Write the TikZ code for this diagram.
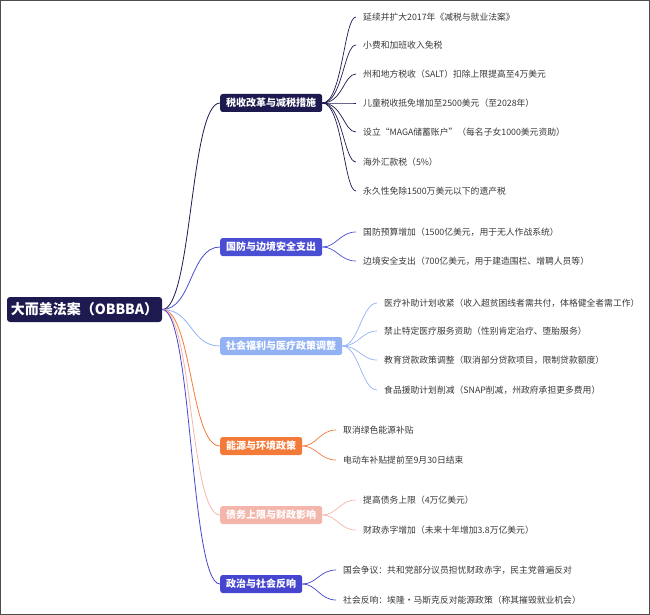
\documentclass[tikz,border=0pt]{standalone}
\usepackage{fontspec}
\setmainfont{Noto Sans CJK SC}
\begin{document}
\begin{tikzpicture}[x=1pt,y=-1pt,
  rootbox/.style={fill=c0,rounded corners=3pt,text=white,font=\bfseries\fontsize{14}{16}\selectfont,minimum width=155pt,minimum height=25pt,inner sep=0pt},
  branch/.style={fill=#1,rounded corners=2.5pt,text=white,font=\bfseries\fontsize{10}{12}\selectfont,minimum height=18pt,inner xsep=6pt,inner ysep=3pt,anchor=west},
  leaf/.style={anchor=west,text=black!78,font=\fontsize{8.8}{10}\selectfont,inner sep=1pt},
  conn/.style={draw=#1,line width=0.8pt}]
\definecolor{c0}{HTML}{1C1A4F}
\definecolor{c1}{HTML}{1C1A4F}
\definecolor{c2}{HTML}{4A4ED2}
\definecolor{c3}{HTML}{92B2F4}
\definecolor{c4}{HTML}{F47A3A}
\definecolor{c5}{HTML}{F4B6AB}
\definecolor{c6}{HTML}{4545CF}
\useasboundingbox (0,0) rectangle (650,615);
\draw[black!70,line width=1.2pt] (0.6,0.6) rectangle (649.4,614.4);
\node[rootbox] (root) at (84.5,309.5) {大而美法案（OBBBA）};
\node[branch=c1] (b1) at (220,103) {税收改革与减税措施};
\node[branch=c2] (b2) at (220,247) {国防与边境安全支出};
\node[branch=c3] (b3) at (220,346) {社会福利与医疗政策调整};
\node[branch=c4] (b4) at (220,446) {能源与环境政策};
\node[branch=c5] (b5) at (220,515) {债务上限与财政影响};
\node[branch=c6] (b6) at (220,584) {政治与社会反响};
\foreach \b/\c in {b1/c1,b2/c2,b3/c3,b4/c4,b5/c5,b6/c6}{
  \draw[conn=\c] (root.east) .. controls +(30,0) and ([xshift=-30pt]\b.west) .. (\b.west);
}
\foreach \n/\y/\t in {
 a1/17/延续并扩大2017年《减税与就业法案》,
 a2/45/小费和加班收入免税,
 a3/74/州和地方税收（SALT）扣除上限提高至4万美元,
 a4/103/儿童税收抵免增加至2500美元（至2028年）,
 a5/132/设立“MAGA储蓄账户”（每名子女1000美元资助）,
 a6/162/海外汇款税（5\%）,
 a7/191/永久性免除1500万美元以下的遗产税}{
  \node[leaf] (\n) at (362,\y) {\t};
  \draw[conn=c1,line width=0.7pt] (b1.east) .. controls +(20,0) and (344,\y) .. ([xshift=-6pt]\n.west);
}
\foreach \n/\y/\t in {
 d1/232/国防预算增加（1500亿美元，用于无人作战系统）,
 d2/261/边境安全支出（700亿美元，用于建造围栏、增聘人员等）}{
  \node[leaf] (\n) at (362,\y) {\t};
  \draw[conn=c2,line width=0.7pt] (b2.east) .. controls +(14,0) and (340,\y) .. ([xshift=-6pt]\n.west);
}
\foreach \n/\y/\t in {
 s1/303/医疗补助计划收紧（收入超贫困线者需共付，体格健全者需工作）,
 s2/331/禁止特定医疗服务资助（性别肯定治疗、堕胎服务）,
 s3/360/教育贷款政策调整（取消部分贷款项目，限制贷款额度）,
 s4/390/食品援助计划削减（SNAP削减，州政府承担更多费用）}{
  \node[leaf] (\n) at (383,\y) {\t};
  \draw[conn=c3,line width=0.7pt] (b3.east) .. controls +(16,0) and (362,\y) .. ([xshift=-6pt]\n.west);
}
\foreach \n/\y/\t in {
 e1/430/取消绿色能源补贴,
 e2/460/电动车补贴提前至9月30日结束}{
  \node[leaf] (\n) at (342,\y) {\t};
  \draw[conn=c4,line width=0.7pt] (b4.east) .. controls +(14,0) and (320,\y) .. ([xshift=-6pt]\n.west);
}
\foreach \n/\y/\t in {
 f1/500/提高债务上限（4万亿美元）,
 f2/530/财政赤字增加（未来十年增加3.8万亿美元）}{
  \node[leaf] (\n) at (362,\y) {\t};
  \draw[conn=c5,line width=0.7pt] (b5.east) .. controls +(14,0) and (340,\y) .. ([xshift=-6pt]\n.west);
}
\foreach \n/\y/\t in {
 p1/570/国会争议：共和党部分议员担忧财政赤字，民主党普遍反对,
 p2/600/社会反响：埃隆·马斯克反对能源政策（称其摧毁就业机会）}{
  \node[leaf] (\n) at (342,\y) {\t};
  \draw[conn=c6,line width=0.7pt] (b6.east) .. controls +(14,0) and (320,\y) .. ([xshift=-6pt]\n.west);
}
\end{tikzpicture}
\end{document}
